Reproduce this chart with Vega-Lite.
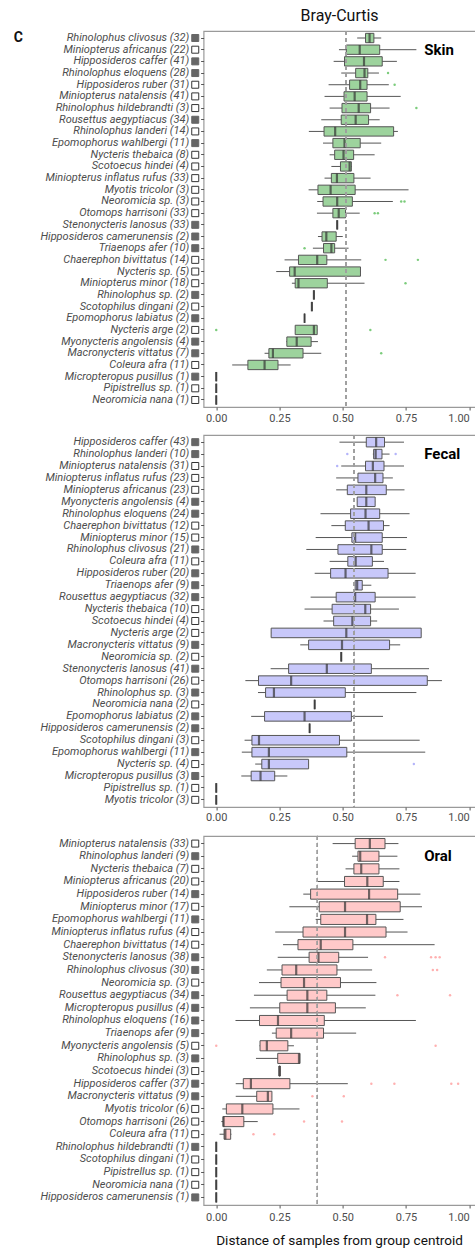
{
"$schema": "https://vega.github.io/schema/vega-lite/v6.json",
"background": "white",
"padding": {"top": 6, "left": 12.6, "right": 0, "bottom": 0},
"spacing": 0,
"config": {
  "font": "Roboto",
  "view": {"stroke": "#9a9a9a", "strokeWidth": 1.2},
  "axis": {"grid": false, "domain": false, "tickColor": "#555555", "tickSize": 3, "tickWidth": 1, "labelColor": "#4d4d4d"},
  "axisY": {"labelFont": "Liberation Sans Narrow, Roboto, sans-serif", "labelFontStyle": "italic", "labelFontSize": 11, "labelPadding": 12, "labelLimit": 400},
  "axisX": {"labelFontSize": 11, "labelPadding": 2}
},
"datasets": {
  "skin": [
    {"sp": "Rhinolophus clivosus (32)", "m": "f", "lo": 0.557, "q1": 0.590, "med": 0.606, "q3": 0.623, "hi": 0.652},
    {"sp": "Miniopterus africanus (22)", "m": "o", "lo": 0.485, "q1": 0.514, "med": 0.567, "q3": 0.646, "hi": 0.791},
    {"sp": "Hipposideros caffer (41)", "m": "f", "lo": 0.464, "q1": 0.507, "med": 0.584, "q3": 0.656, "hi": 0.714},
    {"sp": "Rhinolophus eloquens (28)", "m": "f", "lo": 0.494, "q1": 0.551, "med": 0.586, "q3": 0.599, "hi": 0.643, "o1": 0.679},
    {"sp": "Hipposideros ruber (31)", "m": "o", "lo": 0.444, "q1": 0.527, "med": 0.569, "q3": 0.596, "hi": 0.682, "o1": 0.705},
    {"sp": "Miniopterus natalensis (41)", "m": "o", "lo": 0.428, "q1": 0.505, "med": 0.547, "q3": 0.596, "hi": 0.729},
    {"sp": "Rhinolophus hildebrandti (3)", "m": "o", "lo": 0.448, "q1": 0.497, "med": 0.563, "q3": 0.610, "hi": 0.685, "o1": 0.791},
    {"sp": "Rousettus aegyptiacus (34)", "m": "f", "lo": 0.415, "q1": 0.494, "med": 0.551, "q3": 0.602, "hi": 0.646},
    {"sp": "Rhinolophus landeri (14)", "m": "o", "lo": 0.366, "q1": 0.426, "med": 0.470, "q3": 0.701, "hi": 0.718},
    {"sp": "Epomophorus wahlbergi (11)", "m": "f", "lo": 0.422, "q1": 0.461, "med": 0.507, "q3": 0.569, "hi": 0.652},
    {"sp": "Nycteris thebaica (8)", "m": "o", "lo": 0.448, "q1": 0.468, "med": 0.503, "q3": 0.543, "hi": 0.626},
    {"sp": "Scotoecus hindei (4)", "m": "o", "lo": 0.455, "q1": 0.491, "med": 0.527, "q3": 0.534, "hi": 0.536},
    {"sp": "Miniopterus inflatus rufus (33)", "m": "o", "lo": 0.428, "q1": 0.455, "med": 0.477, "q3": 0.544, "hi": 0.610},
    {"sp": "Myotis tricolor (3)", "m": "o", "lo": 0.365, "q1": 0.402, "med": 0.452, "q3": 0.549, "hi": 0.760},
    {"sp": "Neoromicia sp. (3)", "m": "o", "lo": 0.399, "q1": 0.422, "med": 0.478, "q3": 0.538, "hi": 0.698, "o1": 0.731, "o2": 0.744},
    {"sp": "Otomops harrisoni (33)", "m": "o", "lo": 0.398, "q1": 0.461, "med": 0.484, "q3": 0.511, "hi": 0.567, "o1": 0.626, "o2": 0.639},
    {"sp": "Stenonycteris lanosus (33)", "m": "f", "lo": 0.478, "q1": 0.478, "med": 0.478, "q3": 0.478, "hi": 0.478},
    {"sp": "Hipposideros camerunensis (2)", "m": "f", "lo": 0.402, "q1": 0.418, "med": 0.435, "q3": 0.474, "hi": 0.5},
    {"sp": "Triaenops afer (10)", "m": "f", "lo": 0.382, "q1": 0.424, "med": 0.455, "q3": 0.468, "hi": 0.523, "o1": 0.349},
    {"sp": "Chaerephon bivittatus (14)", "m": "o", "lo": 0.270, "q1": 0.325, "med": 0.399, "q3": 0.437, "hi": 0.573, "o1": 0.669, "o2": 0.797},
    {"sp": "Nycteris sp. (5)", "m": "o", "lo": 0.237, "q1": 0.290, "med": 0.310, "q3": 0.570, "hi": 0.570},
    {"sp": "Miniopterus minor (18)", "m": "o", "lo": 0.299, "q1": 0.312, "med": 0.325, "q3": 0.439, "hi": 0.586, "o1": 0.748},
    {"sp": "Rhinolophus sp. (2)", "m": "f", "lo": 0.386, "q1": 0.386, "med": 0.386, "q3": 0.386, "hi": 0.386},
    {"sp": "Scotophilus dingani (2)", "m": "o", "lo": 0.378, "q1": 0.378, "med": 0.378, "q3": 0.378, "hi": 0.378},
    {"sp": "Epomophorus labiatus (2)", "m": "f", "lo": 0.349, "q1": 0.349, "med": 0.349, "q3": 0.349, "hi": 0.349},
    {"sp": "Nycteris arge (2)", "m": "o", "lo": 0.312, "q1": 0.312, "med": 0.386, "q3": 0.399, "hi": 0.399, "o1": 0.0, "o2": 0.609},
    {"sp": "Myonycteris angolensis (4)", "m": "f", "lo": 0.277, "q1": 0.279, "med": 0.318, "q3": 0.375, "hi": 0.402},
    {"sp": "Macronycteris vittatus (7)", "m": "f", "lo": 0.191, "q1": 0.208, "med": 0.224, "q3": 0.343, "hi": 0.415, "o1": 0.652},
    {"sp": "Coleura afra (11)", "m": "o", "lo": 0.063, "q1": 0.125, "med": 0.191, "q3": 0.244, "hi": 0.294},
    {"sp": "Micropteropus pusillus (1)", "m": "f", "lo": 0, "q1": 0, "med": 0, "q3": 0, "hi": 0},
    {"sp": "Pipistrellus sp. (1)", "m": "o", "lo": 0, "q1": 0, "med": 0, "q3": 0, "hi": 0},
    {"sp": "Neoromicia nana (1)", "m": "o", "lo": 0, "q1": 0, "med": 0, "q3": 0, "hi": 0}
  ],
  "fecal": [
    {"sp": "Hipposideros caffer (43)", "m": "f", "lo": 0.487, "q1": 0.593, "med": 0.632, "q3": 0.665, "hi": 0.742},
    {"sp": "Rhinolophus landeri (10)", "m": "f", "lo": 0.619, "q1": 0.622, "med": 0.630, "q3": 0.655, "hi": 0.685, "o1": 0.518, "o2": 0.709},
    {"sp": "Miniopterus natalensis (31)", "m": "o", "lo": 0.494, "q1": 0.590, "med": 0.619, "q3": 0.663, "hi": 0.742, "o1": 0.478},
    {"sp": "Miniopterus inflatus rufus (23)", "m": "o", "lo": 0.474, "q1": 0.560, "med": 0.628, "q3": 0.659, "hi": 0.698},
    {"sp": "Miniopterus africanus (23)", "m": "o", "lo": 0.474, "q1": 0.518, "med": 0.593, "q3": 0.672, "hi": 0.744},
    {"sp": "Myonycteris angolensis (4)", "m": "f", "lo": 0.557, "q1": 0.557, "med": 0.593, "q3": 0.628, "hi": 0.628},
    {"sp": "Rhinolophus eloquens (24)", "m": "f", "lo": 0.412, "q1": 0.531, "med": 0.590, "q3": 0.646, "hi": 0.764},
    {"sp": "Chaerephon bivittatus (12)", "m": "o", "lo": 0.455, "q1": 0.510, "med": 0.602, "q3": 0.661, "hi": 0.685},
    {"sp": "Miniopterus minor (15)", "m": "o", "lo": 0.393, "q1": 0.536, "med": 0.549, "q3": 0.656, "hi": 0.754},
    {"sp": "Rhinolophus clivosus (21)", "m": "f", "lo": 0.356, "q1": 0.481, "med": 0.613, "q3": 0.656, "hi": 0.751},
    {"sp": "Coleura afra (11)", "m": "o", "lo": 0.448, "q1": 0.520, "med": 0.551, "q3": 0.617, "hi": 0.663},
    {"sp": "Hipposideros ruber (20)", "m": "f", "lo": 0.389, "q1": 0.452, "med": 0.511, "q3": 0.679, "hi": 0.788},
    {"sp": "Triaenops afer (9)", "m": "f", "lo": 0.543, "q1": 0.549, "med": 0.557, "q3": 0.577, "hi": 0.613},
    {"sp": "Rousettus aegyptiacus (32)", "m": "f", "lo": 0.373, "q1": 0.474, "med": 0.549, "q3": 0.628, "hi": 0.788},
    {"sp": "Nycteris thebaica (10)", "m": "o", "lo": 0.349, "q1": 0.458, "med": 0.589, "q3": 0.610, "hi": 0.722},
    {"sp": "Scotoecus hindei (4)", "m": "o", "lo": 0.424, "q1": 0.464, "med": 0.538, "q3": 0.610, "hi": 0.636},
    {"sp": "Nycteris arge (2)", "m": "o", "lo": 0.217, "q1": 0.217, "med": 0.514, "q3": 0.810, "hi": 0.810},
    {"sp": "Macronycteris vittatus (9)", "m": "f", "lo": 0.332, "q1": 0.365, "med": 0.497, "q3": 0.685, "hi": 0.727},
    {"sp": "Neoromicia sp. (2)", "m": "o", "lo": 0.494, "q1": 0.494, "med": 0.494, "q3": 0.494, "hi": 0.494},
    {"sp": "Stenonycteris lanosus (41)", "m": "f", "lo": 0.215, "q1": 0.286, "med": 0.437, "q3": 0.613, "hi": 0.841},
    {"sp": "Otomops harrisoni (26)", "m": "o", "lo": 0.115, "q1": 0.167, "med": 0.296, "q3": 0.834, "hi": 0.892},
    {"sp": "Rhinolophus sp. (3)", "m": "f", "lo": 0.165, "q1": 0.195, "med": 0.228, "q3": 0.510, "hi": 0.791},
    {"sp": "Neoromicia nana (2)", "m": "o", "lo": 0.389, "q1": 0.389, "med": 0.389, "q3": 0.389, "hi": 0.389},
    {"sp": "Epomophorus labiatus (2)", "m": "f", "lo": 0.138, "q1": 0.191, "med": 0.349, "q3": 0.534, "hi": 0.659},
    {"sp": "Hipposideros camerunensis (2)", "m": "f", "lo": 0.369, "q1": 0.369, "med": 0.369, "q3": 0.369, "hi": 0.369},
    {"sp": "Scotophilus dingani (3)", "m": "o", "lo": 0.112, "q1": 0.141, "med": 0.169, "q3": 0.487, "hi": 0.804},
    {"sp": "Epomophorus wahlbergi (11)", "m": "f", "lo": 0.101, "q1": 0.141, "med": 0.208, "q3": 0.516, "hi": 0.826},
    {"sp": "Nycteris sp. (4)", "m": "o", "lo": 0.154, "q1": 0.180, "med": 0.208, "q3": 0.365, "hi": 0.365, "o1": 0.781},
    {"sp": "Micropteropus pusillus (3)", "m": "f", "lo": 0.099, "q1": 0.138, "med": 0.175, "q3": 0.231, "hi": 0.281},
    {"sp": "Pipistrellus sp. (1)", "m": "o", "lo": 0, "q1": 0, "med": 0, "q3": 0, "hi": 0},
    {"sp": "Myotis tricolor (3)", "m": "o", "lo": 0, "q1": 0, "med": 0, "q3": 0, "hi": 0}
  ],
  "oral": [
    {"sp": "Miniopterus natalensis (33)", "m": "o", "lo": 0.460, "q1": 0.549, "med": 0.607, "q3": 0.667, "hi": 0.720},
    {"sp": "Rhinolophus landeri (9)", "m": "f", "lo": 0.537, "q1": 0.560, "med": 0.569, "q3": 0.643, "hi": 0.716},
    {"sp": "Nycteris thebaica (7)", "m": "o", "lo": 0.511, "q1": 0.544, "med": 0.573, "q3": 0.643, "hi": 0.724},
    {"sp": "Miniopterus africanus (20)", "m": "o", "lo": 0.400, "q1": 0.507, "med": 0.597, "q3": 0.660, "hi": 0.724},
    {"sp": "Hipposideros ruber (14)", "m": "f", "lo": 0.344, "q1": 0.373, "med": 0.604, "q3": 0.717, "hi": 0.807},
    {"sp": "Miniopterus minor (17)", "m": "o", "lo": 0.289, "q1": 0.407, "med": 0.509, "q3": 0.727, "hi": 0.813},
    {"sp": "Epomophorus wahlbergi (11)", "m": "f", "lo": 0.393, "q1": 0.413, "med": 0.596, "q3": 0.631, "hi": 0.740},
    {"sp": "Miniopterus inflatus rufus (4)", "m": "o", "lo": 0.233, "q1": 0.343, "med": 0.509, "q3": 0.671, "hi": 0.756},
    {"sp": "Chaerephon bivittatus (14)", "m": "o", "lo": 0.264, "q1": 0.323, "med": 0.413, "q3": 0.540, "hi": 0.863},
    {"sp": "Stenonycteris lanosus (38)", "m": "f", "lo": 0.243, "q1": 0.367, "med": 0.404, "q3": 0.484, "hi": 0.600, "o1": 0.667, "o2": 0.849, "o3": 0.867, "o4": 0.883},
    {"sp": "Rhinolophus clivosus (30)", "m": "f", "lo": 0.200, "q1": 0.260, "med": 0.316, "q3": 0.477, "hi": 0.616, "o1": 0.856, "o2": 0.873},
    {"sp": "Neoromicia sp. (3)", "m": "o", "lo": 0.169, "q1": 0.256, "med": 0.347, "q3": 0.491, "hi": 0.633},
    {"sp": "Rousettus aegyptiacus (34)", "m": "f", "lo": 0.149, "q1": 0.280, "med": 0.360, "q3": 0.437, "hi": 0.629, "o1": 0.716, "o2": 0.924},
    {"sp": "Micropteropus pusillus (4)", "m": "f", "lo": 0.133, "q1": 0.251, "med": 0.360, "q3": 0.471, "hi": 0.591},
    {"sp": "Rhinolophus eloquens (16)", "m": "f", "lo": 0.076, "q1": 0.171, "med": 0.244, "q3": 0.427, "hi": 0.789},
    {"sp": "Triaenops afer (9)", "m": "f", "lo": 0.220, "q1": 0.237, "med": 0.296, "q3": 0.424, "hi": 0.553},
    {"sp": "Myonycteris angolensis (5)", "m": "o", "lo": 0.171, "q1": 0.173, "med": 0.200, "q3": 0.283, "hi": 0.307, "o1": 0.0, "o2": 0.867},
    {"sp": "Rhinolophus sp. (3)", "m": "f", "lo": 0.157, "q1": 0.243, "med": 0.327, "q3": 0.331, "hi": 0.331},
    {"sp": "Scotoecus hindei (3)", "m": "o", "lo": 0.248, "q1": 0.248, "med": 0.250, "q3": 0.253, "hi": 0.253},
    {"sp": "Hipposideros caffer (37)", "m": "f", "lo": 0.077, "q1": 0.107, "med": 0.137, "q3": 0.291, "hi": 0.520, "o1": 0.613, "o2": 0.704, "o3": 0.929, "o4": 0.956},
    {"sp": "Macronycteris vittatus (9)", "m": "f", "lo": 0.077, "q1": 0.160, "med": 0.204, "q3": 0.220, "hi": 0.220, "o1": 0.380, "o2": 0.504},
    {"sp": "Myotis tricolor (6)", "m": "o", "lo": 0.024, "q1": 0.040, "med": 0.103, "q3": 0.224, "hi": 0.329},
    {"sp": "Otomops harrisoni (26)", "m": "o", "lo": 0.020, "q1": 0.027, "med": 0.029, "q3": 0.109, "hi": 0.164, "o1": 0.347, "o2": 0.497},
    {"sp": "Coleura afra (11)", "m": "o", "lo": 0.013, "q1": 0.031, "med": 0.036, "q3": 0.057, "hi": 0.060, "o1": 0.147, "o2": 0.229},
    {"sp": "Rhinolophus hildebrandti (1)", "m": "f", "lo": 0, "q1": 0, "med": 0, "q3": 0, "hi": 0},
    {"sp": "Scotophilus dingani (1)", "m": "o", "lo": 0, "q1": 0, "med": 0, "q3": 0, "hi": 0},
    {"sp": "Pipistrellus sp. (1)", "m": "o", "lo": 0, "q1": 0, "med": 0, "q3": 0, "hi": 0},
    {"sp": "Neoromicia nana (1)", "m": "o", "lo": 0, "q1": 0, "med": 0, "q3": 0, "hi": 0},
    {"sp": "Hipposideros camerunensis (1)", "m": "f", "lo": 0, "q1": 0, "med": 0, "q3": 0, "hi": 0}
  ]
},
"resolve": {"scale": {"x": "independent", "y": "independent"}},
"vconcat": [
  {
    "width": 272, "height": 376,
    "title": {"text": "Bray-Curtis", "frame": "group", "anchor": "middle", "fontSize": 16, "fontWeight": "normal", "offset": 7, "color": "#111111"},
    "data": {"name": "skin"},
    "layer": [
      {"mark": {"type": "rule", "color": "#555555", "strokeWidth": 1},
       "encoding": {
         "y": {"field": "sp", "type": "nominal", "sort": null, "scale": {"paddingInner": 0.2, "paddingOuter": 0.2}, "axis": {"title": null}},
         "x": {"field": "lo", "type": "quantitative", "scale": {"domain": [-0.05, 1.025], "nice": false, "zero": false},
               "axis": {"title": null, "values": [0, 0.25, 0.5, 0.75, 1], "format": ".2f", "labelFlush": false, "minExtent": 25,
                        "labelAlign": {"condition": {"test": "datum.value >= 1", "value": "right"}, "value": "center"}}},
         "x2": {"field": "hi"}}},
      {"mark": {"type": "bar", "fill": "#9dd39d", "stroke": "#555555", "strokeWidth": 1},
       "encoding": {"y": {"field": "sp", "type": "nominal", "sort": null, "title": null},
                    "x": {"field": "q1", "type": "quantitative", "title": null}, "x2": {"field": "q3"}}},
      {"mark": {"type": "tick", "color": "#333333", "thickness": 2.2, "size": 9.3},
       "encoding": {"y": {"field": "sp", "type": "nominal", "sort": null, "title": null},
                    "x": {"field": "med", "type": "quantitative", "title": null}}},
      {"mark": {"type": "point", "filled": true, "size": 6, "color": "#7ccc7c", "opacity": 1},
       "encoding": {"y": {"field": "sp", "type": "nominal", "sort": null, "title": null},
                    "x": {"field": "o1", "type": "quantitative", "title": null}}},
      {"mark": {"type": "point", "filled": true, "size": 6, "color": "#7ccc7c", "opacity": 1},
       "encoding": {"y": {"field": "sp", "type": "nominal", "sort": null, "title": null},
                    "x": {"field": "o2", "type": "quantitative", "title": null}}},
      {"mark": {"type": "point", "shape": "square", "filled": true, "size": 49, "strokeWidth": 1, "opacity": 1},
       "encoding": {"y": {"field": "sp", "type": "nominal", "sort": null, "title": null},
                    "x": {"datum": -0.083},
                    "fill": {"field": "m", "type": "nominal", "scale": {"domain": ["f", "o"], "range": ["#666666", "#ffffff"]}, "legend": null},
                    "stroke": {"field": "m", "type": "nominal", "scale": {"domain": ["f", "o"], "range": ["#666666", "#333333"]}, "legend": null}}},
      {"mark": {"type": "rule", "color": "#a0a0a0", "strokeWidth": 1, "strokeDash": [4, 3]},
       "encoding": {"x": {"datum": 0.514}}},
      {"data": {"values": [{"t": "Skin", "sp": "Miniopterus africanus (22)"}]},
       "mark": {"type": "text", "align": "left", "baseline": "middle", "fontSize": 15, "fontWeight": "bold", "color": "#000000"},
       "encoding": {"x": {"datum": 0.822}, "y": {"field": "sp", "type": "nominal", "sort": null, "title": null}, "text": {"field": "t"}}},
      {"data": {"values": [{"t": "C", "sp": "Rhinolophus clivosus (32)"}]},
       "mark": {"type": "text", "align": "left", "baseline": "middle", "fontSize": 14, "fontWeight": "bold", "color": "#111111"},
       "encoding": {"x": {"datum": -0.80}, "y": {"field": "sp", "type": "nominal", "sort": null, "title": null}, "text": {"field": "t"}}}
    ]
  },
  {
    "width": 272, "height": 372,
    "data": {"name": "fecal"},
    "layer": [
      {"mark": {"type": "rule", "color": "#555555", "strokeWidth": 1},
       "encoding": {
         "y": {"field": "sp", "type": "nominal", "sort": null, "scale": {"paddingInner": 0.2, "paddingOuter": 0.2}, "axis": {"title": null}},
         "x": {"field": "lo", "type": "quantitative", "scale": {"domain": [-0.05, 1.025], "nice": false, "zero": false},
               "axis": {"title": null, "values": [0, 0.25, 0.5, 0.75, 1], "format": ".2f", "labelFlush": false, "minExtent": 25.5,
                        "labelAlign": {"condition": {"test": "datum.value >= 1", "value": "right"}, "value": "center"}}},
         "x2": {"field": "hi"}}},
      {"mark": {"type": "bar", "fill": "#c8c8fa", "stroke": "#555555", "strokeWidth": 1},
       "encoding": {"y": {"field": "sp", "type": "nominal", "sort": null, "title": null},
                    "x": {"field": "q1", "type": "quantitative", "title": null}, "x2": {"field": "q3"}}},
      {"mark": {"type": "tick", "color": "#333333", "thickness": 2.2, "size": 9.5},
       "encoding": {"y": {"field": "sp", "type": "nominal", "sort": null, "title": null},
                    "x": {"field": "med", "type": "quantitative", "title": null}}},
      {"mark": {"type": "point", "filled": true, "size": 6, "color": "#b4b4fa", "opacity": 1},
       "encoding": {"y": {"field": "sp", "type": "nominal", "sort": null, "title": null},
                    "x": {"field": "o1", "type": "quantitative", "title": null}}},
      {"mark": {"type": "point", "filled": true, "size": 6, "color": "#b4b4fa", "opacity": 1},
       "encoding": {"y": {"field": "sp", "type": "nominal", "sort": null, "title": null},
                    "x": {"field": "o2", "type": "quantitative", "title": null}}},
      {"mark": {"type": "point", "shape": "square", "filled": true, "size": 49, "strokeWidth": 1, "opacity": 1},
       "encoding": {"y": {"field": "sp", "type": "nominal", "sort": null, "title": null},
                    "x": {"datum": -0.083},
                    "fill": {"field": "m", "type": "nominal", "scale": {"domain": ["f", "o"], "range": ["#666666", "#ffffff"]}, "legend": null},
                    "stroke": {"field": "m", "type": "nominal", "scale": {"domain": ["f", "o"], "range": ["#666666", "#333333"]}, "legend": null}}},
      {"mark": {"type": "rule", "color": "#a0a0a0", "strokeWidth": 1, "strokeDash": [4, 3]},
       "encoding": {"x": {"datum": 0.545}}},
      {"data": {"values": [{"t": "Fecal", "sp": "Rhinolophus landeri (10)"}]},
       "mark": {"type": "text", "align": "left", "baseline": "middle", "fontSize": 15, "fontWeight": "bold", "color": "#000000"},
       "encoding": {"x": {"datum": 0.822}, "y": {"field": "sp", "type": "nominal", "sort": null, "title": null}, "text": {"field": "t"}}}
    ]
  },
  {
    "width": 272, "height": 369,
    "title": {"text": "Distance of samples from group centroid", "orient": "bottom", "frame": "group", "anchor": "middle", "fontSize": 13.6, "fontWeight": "normal", "color": "#111111", "offset": 11.5},
    "data": {"name": "oral"},
    "layer": [
      {"mark": {"type": "rule", "color": "#555555", "strokeWidth": 1},
       "encoding": {
         "y": {"field": "sp", "type": "nominal", "sort": null, "scale": {"paddingInner": 0.2, "paddingOuter": 0.2}, "axis": {"title": null}},
         "x": {"field": "lo", "type": "quantitative", "scale": {"domain": [-0.05, 1.025], "nice": false, "zero": false},
               "axis": {"title": null, "labelPadding": 3.5,
                        "values": [0, 0.25, 0.5, 0.75, 1], "format": ".2f", "labelFlush": false,
                        "labelAlign": {"condition": {"test": "datum.value >= 1", "value": "right"}, "value": "center"}}},
         "x2": {"field": "hi"}}},
      {"mark": {"type": "bar", "fill": "#ffc9c9", "stroke": "#555555", "strokeWidth": 1},
       "encoding": {"y": {"field": "sp", "type": "nominal", "sort": null, "title": null},
                    "x": {"field": "q1", "type": "quantitative", "title": null}, "x2": {"field": "q3"}}},
      {"mark": {"type": "tick", "color": "#333333", "thickness": 2.2, "size": 10.1},
       "encoding": {"y": {"field": "sp", "type": "nominal", "sort": null, "title": null},
                    "x": {"field": "med", "type": "quantitative", "title": null}}},
      {"mark": {"type": "point", "filled": true, "size": 6, "color": "#ffb0b0", "opacity": 1},
       "encoding": {"y": {"field": "sp", "type": "nominal", "sort": null, "title": null},
                    "x": {"field": "o1", "type": "quantitative", "title": null}}},
      {"mark": {"type": "point", "filled": true, "size": 6, "color": "#ffb0b0", "opacity": 1},
       "encoding": {"y": {"field": "sp", "type": "nominal", "sort": null, "title": null},
                    "x": {"field": "o2", "type": "quantitative", "title": null}}},
      {"mark": {"type": "point", "filled": true, "size": 6, "color": "#ffb0b0", "opacity": 1},
       "encoding": {"y": {"field": "sp", "type": "nominal", "sort": null, "title": null},
                    "x": {"field": "o3", "type": "quantitative", "title": null}}},
      {"mark": {"type": "point", "filled": true, "size": 6, "color": "#ffb0b0", "opacity": 1},
       "encoding": {"y": {"field": "sp", "type": "nominal", "sort": null, "title": null},
                    "x": {"field": "o4", "type": "quantitative", "title": null}}},
      {"mark": {"type": "point", "shape": "square", "filled": true, "size": 49, "strokeWidth": 1, "opacity": 1},
       "encoding": {"y": {"field": "sp", "type": "nominal", "sort": null, "title": null},
                    "x": {"datum": -0.083},
                    "fill": {"field": "m", "type": "nominal", "scale": {"domain": ["f", "o"], "range": ["#666666", "#ffffff"]}, "legend": null},
                    "stroke": {"field": "m", "type": "nominal", "scale": {"domain": ["f", "o"], "range": ["#666666", "#333333"]}, "legend": null}}},
      {"mark": {"type": "rule", "color": "#a0a0a0", "strokeWidth": 1, "strokeDash": [4, 3]},
       "encoding": {"x": {"datum": 0.40}}},
      {"data": {"values": [{"t": "Oral", "sp": "Rhinolophus landeri (9)"}]},
       "mark": {"type": "text", "align": "left", "baseline": "middle", "fontSize": 15, "fontWeight": "bold", "color": "#000000"},
       "encoding": {"x": {"datum": 0.822}, "y": {"field": "sp", "type": "nominal", "sort": null, "title": null}, "text": {"field": "t"}}}
    ]
  }
]
}
